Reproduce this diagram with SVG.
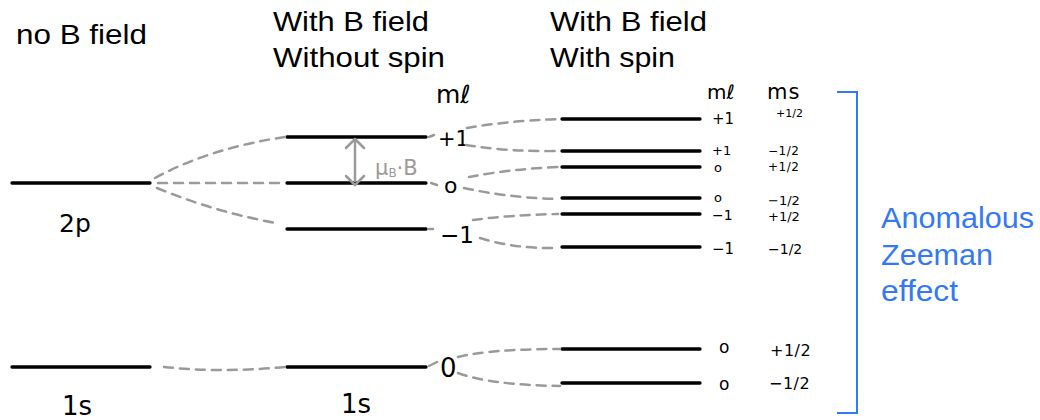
<svg xmlns="http://www.w3.org/2000/svg" width="1040" height="420" viewBox="0 0 1040 420">
<style>
.lvl{stroke:#000;stroke-width:3.3;stroke-linecap:round}
.dash{fill:none;stroke:#9a9a9a;stroke-width:2.5;stroke-dasharray:9 7;stroke-linecap:round}
.hd{font-family:"Liberation Sans",Arial,sans-serif;font-size:28px;fill:#000}
.hw{font-family:"DejaVu Sans","Liberation Sans",sans-serif;fill:#000}
.bl{font-family:"Liberation Sans",Arial,sans-serif;font-size:29px;fill:#3478f6}
</style>
<rect width="1040" height="420" fill="#fff"/>
<g id="headers">
<text class="hd" x="16" y="44" textLength="131" lengthAdjust="spacingAndGlyphs">no B field</text>
<text class="hd" x="273" y="31" textLength="156" lengthAdjust="spacingAndGlyphs">With B field</text>
<text class="hd" x="273" y="67" textLength="172" lengthAdjust="spacingAndGlyphs">Without spin</text>
<text class="hd" x="550" y="31" textLength="157" lengthAdjust="spacingAndGlyphs">With B field</text>
<text class="hd" x="550" y="67" textLength="125" lengthAdjust="spacingAndGlyphs">With spin</text>
</g>
<g id="level-2p">
<line class="lvl" x1="12" y1="183" x2="150" y2="183"/>
<text class="hw" x="59" y="232" style="font-size:25px">2p</text>
</g>
<g id="level-1s">
<line class="lvl" x1="12" y1="367" x2="150" y2="367"/>
<text class="hw" x="62" y="415" style="font-size:26px">1s</text>
</g>
<g id="mid-levels">
<line class="lvl" x1="287" y1="137" x2="426" y2="137"/>
<line class="lvl" x1="287" y1="183" x2="426" y2="183"/>
<line class="lvl" x1="287" y1="229" x2="426" y2="229"/>
<line class="lvl" x1="287" y1="367" x2="426" y2="367"/>
</g>
<g id="mid-labels">
<text class="hw" x="341" y="413" style="font-size:26px">1s</text>
<text class="hw" x="436" y="103" style="font-size:25px">mℓ</text>
<text class="hw" x="438" y="146" style="font-size:21px">+1</text>
<text class="hw" x="444" y="193" style="font-size:22px">o</text>
<text class="hw" x="440" y="243" style="font-size:23px">−1</text>
<text class="hw" x="440" y="377" style="font-size:26px">0</text>
</g>
<g id="splitting">
<line x1="355" y1="141" x2="355" y2="182" stroke="#9a9a9a" stroke-width="2.5"/>
<path d="M346 148 L355 139 L364 148 M346 176 L355 185 L364 176" fill="none" stroke="#9a9a9a" stroke-width="2.5" stroke-linecap="round" stroke-linejoin="round"/>
<text x="375" y="175" font-family="DejaVu Sans,sans-serif" style="font-size:21px" fill="#9a9a9a">μ<tspan style="font-size:12px" dy="2">B</tspan><tspan dy="-2">·B</tspan></text>
</g>
<g id="right-levels">
<line class="lvl" x1="562" y1="119" x2="700" y2="119"/>
<line class="lvl" x1="562" y1="151" x2="700" y2="151"/>
<line class="lvl" x1="562" y1="167" x2="700" y2="167"/>
<line class="lvl" x1="562" y1="198" x2="700" y2="198"/>
<line class="lvl" x1="562" y1="214" x2="700" y2="214"/>
<line class="lvl" x1="562" y1="247" x2="700" y2="247"/>
<line class="lvl" x1="562" y1="349" x2="700" y2="349"/>
<line class="lvl" x1="562" y1="383" x2="700" y2="383"/>
</g>
<g id="right-labels">
<text class="hw" x="707" y="99" style="font-size:20px">mℓ</text>
<text class="hw" x="767" y="99" style="font-size:21px;letter-spacing:1px">ms</text>
<text class="hw" x="712" y="124" style="font-size:15px">+1</text>
<text class="hw" x="712" y="155" style="font-size:13px">+1</text>
<text class="hw" x="714" y="172" style="font-size:13px">o</text>
<text class="hw" x="714" y="202" style="font-size:13px">o</text>
<text class="hw" x="712" y="220" style="font-size:14px">−1</text>
<text class="hw" x="712" y="254" style="font-size:15px">−1</text>
<text class="hw" x="776" y="117" style="font-size:11px">+1/2</text>
<text class="hw" x="768" y="155" style="font-size:12px;letter-spacing:0.5px">−1/2</text>
<text class="hw" x="768" y="171" style="font-size:12px;letter-spacing:0.5px">+1/2</text>
<text class="hw" x="768" y="205" style="font-size:13px">−1/2</text>
<text class="hw" x="768" y="221" style="font-size:13px">+1/2</text>
<text class="hw" x="768" y="254" style="font-size:14px">−1/2</text>
<text class="hw" x="719" y="353" style="font-size:17px">o</text>
<text class="hw" x="719" y="390" style="font-size:17px">o</text>
<text class="hw" x="770" y="356" style="font-size:16px;letter-spacing:0.5px">+1/2</text>
<text class="hw" x="769" y="389" style="font-size:16px;letter-spacing:0.5px">−1/2</text>
</g>
<g id="connectors">
<path class="dash" d="M155 178 Q210 148 285 137"/>
<path class="dash" d="M158 183 L285 183"/>
<path class="dash" d="M157 188 Q215 212 276 223"/>
<path class="dash" d="M164 367 Q220 373 285 367"/>
<path class="dash" d="M429 137 L434 135"/>
<path class="dash" d="M431 183 L437 185"/>
<path class="dash" d="M429 229 L433 229"/>
<path class="dash" d="M429 366 L437 362"/>
<path class="dash" d="M467 128 Q505 121 560 119"/>
<path class="dash" d="M466 145 Q510 152 560 151"/>
<path class="dash" d="M469 177 Q510 169 558 167"/>
<path class="dash" d="M464 188 Q510 198 558 199"/>
<path class="dash" d="M473 220 Q510 215 558 214"/>
<path class="dash" d="M480 238 Q515 249 558 248"/>
<path class="dash" d="M458 357 Q490 349 560 349"/>
<path class="dash" d="M458 373 Q490 385 560 386"/>
</g>
<g id="bracket">
<path d="M837 92 L857 92 L857 413 L837 413" fill="none" stroke="#3478f6" stroke-width="2"/>
<text class="bl" x="881" y="228" textLength="153" lengthAdjust="spacingAndGlyphs">Anomalous</text>
<text class="bl" x="881" y="265" textLength="112" lengthAdjust="spacingAndGlyphs">Zeeman</text>
<text class="bl" x="881" y="301" textLength="77" lengthAdjust="spacingAndGlyphs">effect</text>
</g>
</svg>
